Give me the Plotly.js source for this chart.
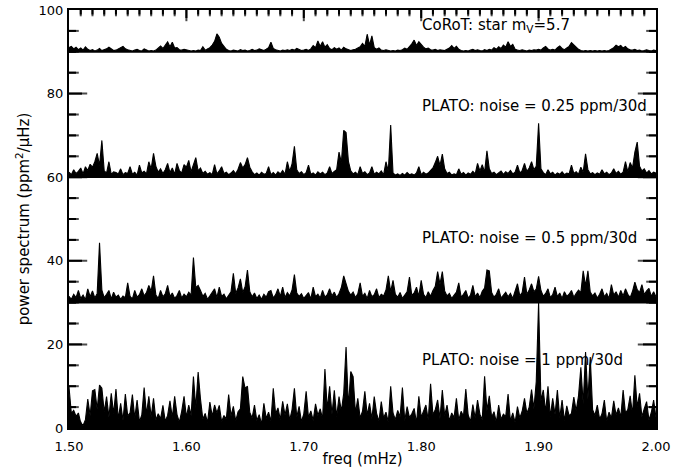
<!DOCTYPE html>
<html>
<head>
<meta charset="utf-8">
<script src="https://cdn.plot.ly/plotly-3.0.1.min.js"></script>
<style>html,body{margin:0;padding:0;background:#fff;}#chart{width:697px;height:470px;}</style>
</head>
<body>
<div id="chart"></div>
<script>
// Frequency sampling of the spectra (mHz)
const freqStart = 1.5;
const freqStep = 0.002;

// Power above each panel's baseline (ppm^2/uHz), one value per frequency bin
const corotPower = [
  1.0,1.3,0.7,1.1,0.5,0.9,0.4,1.2,0.6,0.3,0.5,0.2,0.4,0.8,0.3,0.5,0.7,1.1,0.6,0.3,0.4,0.8,1.0,1.3,0.7,
  0.5,0.3,0.2,0.4,0.6,0.3,0.2,0.7,0.5,0.2,0.3,0.2,0.4,0.9,1.4,0.8,1.7,2.4,1.2,2.3,0.9,1.0,0.5,0.4,0.6,
  0.5,0.3,0.2,0.3,0.2,0.4,0.3,1.2,0.4,0.7,1.0,1.6,2.5,4.3,3.5,2.0,1.2,0.6,0.3,0.2,0.4,0.3,0.2,0.5,0.3,
  0.4,0.2,0.3,0.6,0.3,0.4,0.7,0.5,0.3,0.6,1.0,2.3,0.8,0.5,0.3,0.2,0.4,0.3,0.5,0.3,0.6,0.4,0.8,0.5,0.3,
  0.4,0.6,0.3,0.7,1.5,1.0,2.6,1.3,2.4,1.1,1.7,0.8,0.5,1.0,0.6,0.9,0.4,1.1,0.7,0.5,0.3,0.5,0.6,0.9,1.2,
  2.0,1.3,4.2,1.6,3.8,1.0,0.6,0.9,0.4,0.3,0.5,0.3,0.2,0.3,0.2,0.4,0.3,0.5,0.9,0.6,1.2,1.9,2.8,1.5,2.4,
  1.6,1.1,0.7,0.9,0.5,0.4,0.6,0.3,0.5,0.4,0.3,0.6,0.9,1.5,0.8,1.3,0.6,0.3,0.2,0.3,0.2,0.4,0.6,0.3,0.5,
  0.3,0.2,0.5,0.3,0.6,0.4,1.0,0.6,1.2,0.8,1.6,1.1,2.4,1.3,1.8,0.6,0.4,0.3,0.5,0.3,0.2,0.4,0.3,0.5,0.4,
  0.6,0.4,0.9,1.3,0.7,0.4,0.6,0.4,1.0,1.4,0.8,0.5,0.9,1.3,2.2,1.6,1.0,0.6,0.3,0.2,0.3,0.2,0.3,0.2,0.3,
  0.2,0.3,0.2,0.3,0.2,0.3,0.6,1.0,1.6,1.2,1.5,0.9,1.3,0.7,0.5,0.4,0.6,0.3,0.4,0.2,0.3,0.5,0.3,0.2,0.4,
  0.3
];
const plato025Power = [
  1.2,0.6,1.8,0.9,1.4,2.2,0.8,2.5,1.6,3.1,2.4,3.7,5.7,2.8,8.8,1.5,1.0,3.7,0.7,1.3,1.1,0.8,2.0,0.6,1.1,
  0.9,2.5,0.7,1.2,0.5,2.9,1.0,1.4,0.8,3.7,2.0,5.7,2.6,1.2,2.0,0.9,1.8,3.3,1.1,2.2,0.7,3.3,1.6,1.0,3.0,
  2.4,4.0,1.3,3.2,4.7,1.5,2.2,0.9,1.4,0.7,1.1,0.6,3.0,0.8,1.5,2.5,0.9,1.2,0.6,1.0,1.6,0.8,1.9,3.5,2.2,
  3.0,4.7,2.4,1.3,0.6,1.0,0.5,1.2,0.7,0.9,2.5,0.6,1.1,0.5,1.3,0.8,1.6,0.7,3.7,1.4,3.2,7.4,1.8,0.9,1.3,
  0.6,1.1,2.9,0.7,1.0,0.5,1.3,0.8,1.2,0.6,1.0,2.5,0.9,1.4,1.8,6.0,3.5,11.2,10.7,3.8,1.5,0.8,1.2,0.6,2.5,
  0.9,1.3,0.6,1.0,2.5,0.7,1.2,0.8,1.5,0.6,3.7,1.4,12.5,1.0,0.5,0.8,0.4,0.9,0.5,1.1,0.6,0.8,0.5,1.0,2.5,
  0.6,1.2,0.7,1.0,1.6,2.2,3.5,5.0,2.8,5.5,2.0,0.9,1.2,0.5,0.8,0.6,2.0,0.7,1.1,0.5,1.0,0.7,1.4,0.8,3.3,
  1.5,3.0,1.2,6.3,2.0,0.9,1.2,0.6,1.0,1.5,0.7,1.3,0.9,1.6,0.8,1.2,2.9,1.0,1.6,3.3,1.4,2.2,3.7,1.8,2.6,
  12.9,2.0,1.1,0.6,1.8,0.8,1.2,0.5,1.0,0.7,1.3,0.6,1.0,0.8,2.9,0.9,1.3,0.7,2.4,1.2,5.6,1.8,0.8,1.1,0.6,
  1.0,0.7,1.8,0.8,1.2,0.6,1.0,2.0,0.9,1.4,0.7,1.2,3.7,1.3,3.5,2.2,6.0,8.4,2.6,1.5,2.0,1.0,1.6,0.8,1.2,
  1.0
];
const plato05Power = [
  1.5,0.8,2.0,1.2,2.9,1.0,1.8,0.7,3.3,1.4,2.8,1.1,2.2,14.3,3.0,1.2,2.0,2.9,0.9,2.5,1.3,1.8,0.8,1.6,1.2,
  4.7,1.5,0.9,2.9,1.3,1.9,3.3,1.6,2.4,4.1,2.7,6.4,1.8,1.0,2.9,1.4,2.1,4.1,1.5,2.3,1.0,1.7,2.9,1.1,2.0,
  1.4,2.5,1.8,10.8,3.6,4.1,2.9,1.5,2.2,0.8,1.6,2.4,3.3,1.2,3.7,1.5,2.0,0.9,1.7,2.6,7.0,2.2,3.5,5.7,2.4,
  3.8,7.8,2.6,1.4,2.3,1.0,1.8,0.8,2.0,1.3,2.6,2.9,1.1,1.9,3.3,1.5,3.7,1.2,2.4,1.6,3.0,6.7,2.3,1.5,2.1,
  1.0,1.8,2.4,0.9,3.7,1.4,2.0,1.1,2.9,1.3,1.9,3.3,1.6,2.5,1.2,2.2,3.6,6.4,4.6,2.7,1.8,2.5,1.2,2.1,4.7,
  1.5,2.2,1.0,2.9,1.4,1.9,3.3,1.2,2.0,1.6,3.0,6.4,2.6,5.3,2.0,1.3,2.4,1.0,1.8,2.6,6.1,1.7,2.3,3.7,1.5,
  5.3,2.0,1.2,2.6,1.5,2.9,3.9,7.4,4.4,7.4,2.8,1.6,2.2,1.0,1.9,2.5,4.7,1.3,2.0,2.9,1.1,1.8,4.1,1.4,2.3,
  1.2,2.7,3.5,7.8,7.6,2.4,1.3,2.0,3.3,1.1,1.9,2.5,1.4,2.2,1.0,2.8,4.5,1.6,2.4,6.1,2.0,3.0,4.5,2.6,3.2,
  6.3,2.9,1.5,2.2,3.3,1.2,1.9,3.7,1.4,2.3,1.0,2.6,1.5,2.0,2.9,1.3,2.2,3.0,2.4,7.6,4.0,7.6,2.5,1.6,2.3,
  1.1,2.0,3.3,1.4,2.2,1.0,4.3,1.8,2.6,1.3,2.9,1.6,3.3,2.0,1.2,2.7,4.9,3.1,2.4,4.3,1.9,2.8,3.4,1.5,2.6,
  1.4
];
const plato1Power = [
  9.8,3.5,4.2,2.8,3.6,1.2,0.6,2.0,6.9,3.0,8.9,9.2,4.5,10.3,9.5,3.8,7.5,2.6,8.3,3.4,9.3,2.2,5.9,1.8,8.1,
  2.9,3.6,8.0,2.4,6.7,1.5,3.1,9.7,3.3,7.6,2.7,7.1,1.9,3.4,2.2,5.4,1.6,3.0,6.5,2.5,7.6,3.2,1.4,4.0,7.6,
  2.6,5.5,3.0,12.3,4.8,13.4,6.9,2.1,3.5,1.3,6.2,2.8,5.5,3.6,5.4,1.5,3.0,2.2,8.0,2.9,5.2,1.7,3.9,4.6,12.3,
  9.5,10.0,3.7,2.4,5.5,1.8,3.2,0.9,5.9,2.3,3.8,1.6,9.5,3.4,4.8,2.0,6.4,3.1,5.8,1.9,4.4,9.5,2.6,5.2,1.5,
  3.4,8.8,2.5,4.1,1.8,5.8,3.0,4.6,2.2,14.1,4.5,10.0,3.3,9.0,2.7,7.5,4.0,8.3,19.4,5.1,13.5,12.3,3.6,7.1,2.4,
  4.0,8.8,3.1,5.9,2.2,7.5,3.5,1.6,6.3,2.4,3.8,1.4,10.0,3.6,2.0,4.2,2.7,9.7,1.8,5.1,2.5,3.4,4.7,1.2,7.6,
  2.6,3.9,5.5,1.9,10.6,3.2,4.4,6.7,2.3,9.1,3.0,5.5,1.7,3.6,2.5,7.1,1.9,4.0,2.8,9.3,3.1,1.5,5.6,2.4,6.7,
  3.3,2.0,12.4,4.2,7.7,2.6,3.9,1.4,5.5,2.1,3.3,2.8,8.1,1.7,3.6,1.3,5.1,2.4,4.0,7.1,3.5,5.0,9.2,4.6,11.1,
  30.0,6.5,9.1,3.8,10.0,2.7,7.1,3.2,9.1,2.4,6.7,1.8,5.3,2.9,3.5,7.4,4.1,7.7,14.5,5.8,18.2,6.9,17.0,4.4,3.0,
  5.5,2.1,3.4,6.7,1.6,3.8,2.4,6.5,3.1,4.8,2.6,9.1,3.5,4.4,7.7,3.3,12.6,5.0,8.3,2.7,4.6,6.3,1.9,3.7,6.7,
  2.5
];

// Vertical offsets of the four spectra and their labels
const seriesPower = [corotPower, plato025Power, plato05Power, plato1Power];
const seriesOffset = [90, 60, 30, 0];
const seriesLabel = [
  'CoRoT: star m<sub>V</sub>=5.7',
  'PLATO: noise = 0.25 ppm/30d',
  'PLATO: noise = 0.5 ppm/30d',
  'PLATO: noise = 1 ppm/30d'
];
const labelFreq = 1.799;
const labelLevel = [96.2, 77.0, 45.5, 16.3];

// Axis ticks
const xTickVals = [1.5, 1.6, 1.7, 1.8, 1.9, 2.0];
const xTickText = ['1.50', '1.60', '1.70', '1.80', '1.90', '2.00'];
const xMinorStep = 0.01;
const yTickVals = [0, 20, 40, 60, 80, 100];
const yTickText = ['0', '20', '40', '60', '80', '100'];
const yMinorStep = 5;

// Figure geometry
const W = 697, H = 470;
const M = {l: 69, r: 41, t: 10, b: 42};
const plotW = W - M.l - M.r, plotH = H - M.t - M.b;

const nBins = corotPower.length;
const freq = Array.from({length: nBins}, (_, i) => +(freqStart + i * freqStep).toFixed(4));
const freqEnd = freq[nBins - 1];
const xRange = [xTickVals[0], xTickVals[xTickVals.length - 1]];
const yRange = [yTickVals[0], yTickVals[yTickVals.length - 1]];

// Inward tick marks on all four sides (IDL style)
const pxX = (xRange[1] - xRange[0]) / plotW;   // data units per pixel, x
const pxY = (yRange[1] - yRange[0]) / plotH;   // data units per pixel, y
const tkX = [], tkY = [];
const mkX = [], mkY = [], mkSym = [], mkSize = [];
const nxMinor = Math.round((xRange[1] - xRange[0]) / xMinorStep);
for (let i = 1; i < nxMinor; i++) {
  const v = +(xRange[0] + i * xMinorStep).toFixed(3);
  const lp = i % 10 === 0 ? 8 : 4.5;
  tkX.push(v, v, null, v, v, null);
  tkY.push(yRange[0], yRange[0] + lp * pxY, null, yRange[1], yRange[1] - lp * pxY, null);
  mkX.push(v, v); mkY.push(yRange[0], yRange[1]);
  mkSym.push('line-ns-open', 'line-ns-open'); mkSize.push(2 * lp, 2 * lp);
}
const nyMinor = Math.round((yRange[1] - yRange[0]) / yMinorStep);
for (let i = 1; i < nyMinor; i++) {
  const v = yRange[0] + i * yMinorStep;
  const lp = i % 4 === 0 ? 13 : 7;
  tkX.push(xRange[0], xRange[0] + lp * pxX, null, xRange[1], xRange[1] - lp * pxX, null);
  tkY.push(v, v, null, v, v, null);
  mkX.push(xRange[0], xRange[1]); mkY.push(v, v);
  mkSym.push('line-ew-open', 'line-ew-open'); mkSize.push(2 * lp, 2 * lp);
}

const traces = [];
// tick marks first so the spectra cover them where they overlap (as in the original)
traces.push({
  x: tkX, y: tkY, type: 'scatter', mode: 'lines', connectgaps: false,
  line: {color: '#000000', width: 2}, hoverinfo: 'skip', showlegend: false
});
traces.push({
  x: mkX, y: mkY, type: 'scatter', mode: 'markers', cliponaxis: true,
  marker: {symbol: mkSym, size: mkSize, color: '#000000', line: {color: '#000000', width: 2}},
  hoverinfo: 'skip', showlegend: false
});
seriesPower.forEach((pw, k) => {
  const off = seriesOffset[k];
  traces.push({
    x: [freqStart, freqEnd], y: [off, off], type: 'scatter', mode: 'lines',
    line: {color: 'black', width: 1.8}, hoverinfo: 'skip'
  });
  traces.push({
    x: freq, y: pw.map(v => v + off), type: 'scatter', mode: 'lines',
    line: {color: 'black', width: 1.1, shape: 'linear'},
    fill: 'tonexty', fillcolor: 'black', hoverinfo: 'skip'
  });
});

const annotations = seriesLabel.map((t, k) => ({
  text: t, x: labelFreq, y: labelLevel[k], xref: 'x', yref: 'y',
  xanchor: 'left', yanchor: 'middle', showarrow: false,
  font: {family: 'DejaVu Sans, sans-serif', size: 15, color: 'black'}
}));

const layout = {
  width: W, height: H,
  margin: {l: M.l, r: M.r, t: M.t, b: M.b, pad: 0},
  paper_bgcolor: 'white', plot_bgcolor: 'white',
  showlegend: false,
  font: {family: 'DejaVu Sans, sans-serif', size: 13, color: 'black'},
  xaxis: {
    range: xRange, tickmode: 'array', tickvals: xTickVals, ticktext: xTickText,
    ticks: 'outside', ticklen: 5, tickwidth: 1, tickcolor: 'white',
    showline: true, linewidth: 2, linecolor: 'black', mirror: true,
    showgrid: false, zeroline: false,
    title: {text: 'freq (mHz)', font: {size: 15}, standoff: 1}
  },
  yaxis: {
    range: yRange, tickmode: 'array', tickvals: yTickVals, ticktext: yTickText,
    ticks: 'outside', ticklen: 1, tickwidth: 1, tickcolor: 'white',
    showline: true, linewidth: 2, linecolor: 'black', mirror: true,
    showgrid: false, zeroline: false,
    title: {text: 'power spectrum (ppm<sup>2</sup>/μHz)', font: {size: 15}, standoff: 5}
  },
  annotations: annotations
};

Plotly.newPlot('chart', traces, layout, {staticPlot: true, displayModeBar: false});
</script>
</body>
</html>
